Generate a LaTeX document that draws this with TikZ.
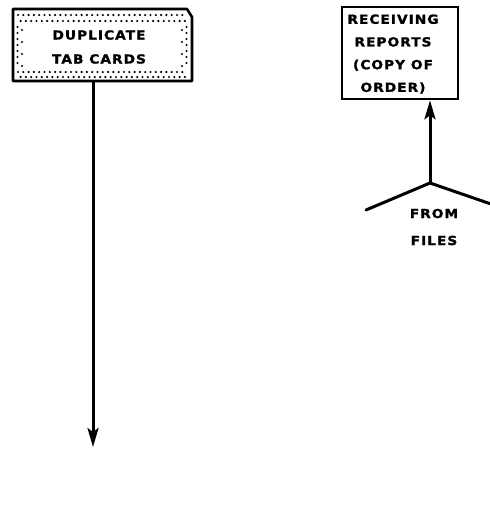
\documentclass[tikz,border=0pt]{standalone}
\usepackage{fontspec}
\usetikzlibrary{arrows.meta}
\newfontfamily\labfont{DejaVu Sans Bold}[LetterSpace=8,FakeStretch=1.1,FakeBold=1.5]
\tikzset{
  lab/.style={font=\labfont\fontsize{12.5}{#1}\selectfont, align=center, inner sep=0pt},
  lab/.default=24,
  heavy/.style={line width=2.6pt},
  flow/.style={line width=3pt},
  arr/.style={flow, -{Stealth[length=19pt,width=11pt,inset=4pt]}},
  dot/.style={fill=black}
}
\begin{document}
\begin{tikzpicture}[x=1pt,y=-1pt]
\useasboundingbox (0,0) rectangle (490,531);
% tab card outline
\coordinate (tnw) at (13,9);
\coordinate (tcut1) at (187,9);
\coordinate (tcut2) at (192,17);
\coordinate (tse) at (192,81);
\coordinate (tsw) at (13,81);
\draw[heavy, line join=round] (tnw) -- (tcut1) -- (tcut2) -- (tse) -- (tsw) -- cycle;
% stipple band
\foreach \x in {18,23.3,...,186} { \fill[dot] (\x,15) circle (1.2); \fill[dot] (\x+2.6,21) circle (1.2);
  \fill[dot] (\x,72) circle (1.2); \fill[dot] (\x+2.6,77) circle (1.2); }
\foreach \y in {27,33,...,67} { \fill[dot] (17.5,\y) circle (1.2); \fill[dot] (186.5,\y) circle (1.2); }
\foreach \y in {30,42,54,66} { \fill[dot] (22,\y) circle (1.2); \fill[dot] (182,\y) circle (1.2); }
\node[lab=24] (tab) at (99,47) {DUPLICATE\\TAB CARDS};
\coordinate (tabout) at (93,81);
\coordinate (tabend) at (93,447);
\draw[arr] (tabout) -- (tabend);
% receiving reports
\node[draw, heavy, minimum width=116pt, minimum height=92pt, inner sep=0pt] (recv) at (400,53) {};
\node[lab=22.7] (recvtxt) at (393,54) {RECEIVING\\REPORTS\\(COPY OF\\ORDER)};
\coordinate (junc) at (430,183);
\coordinate (lend) at (366,210);
\coordinate (rend) at (491,204);
\draw[flow, line cap=round, line join=round] (lend) -- (junc) -- (rend);
\draw[arr] (junc) -- (junc |- recv.south);
\node[lab=27] (files) at (434,227) {FROM\\FILES};
\end{tikzpicture}
\end{document}
